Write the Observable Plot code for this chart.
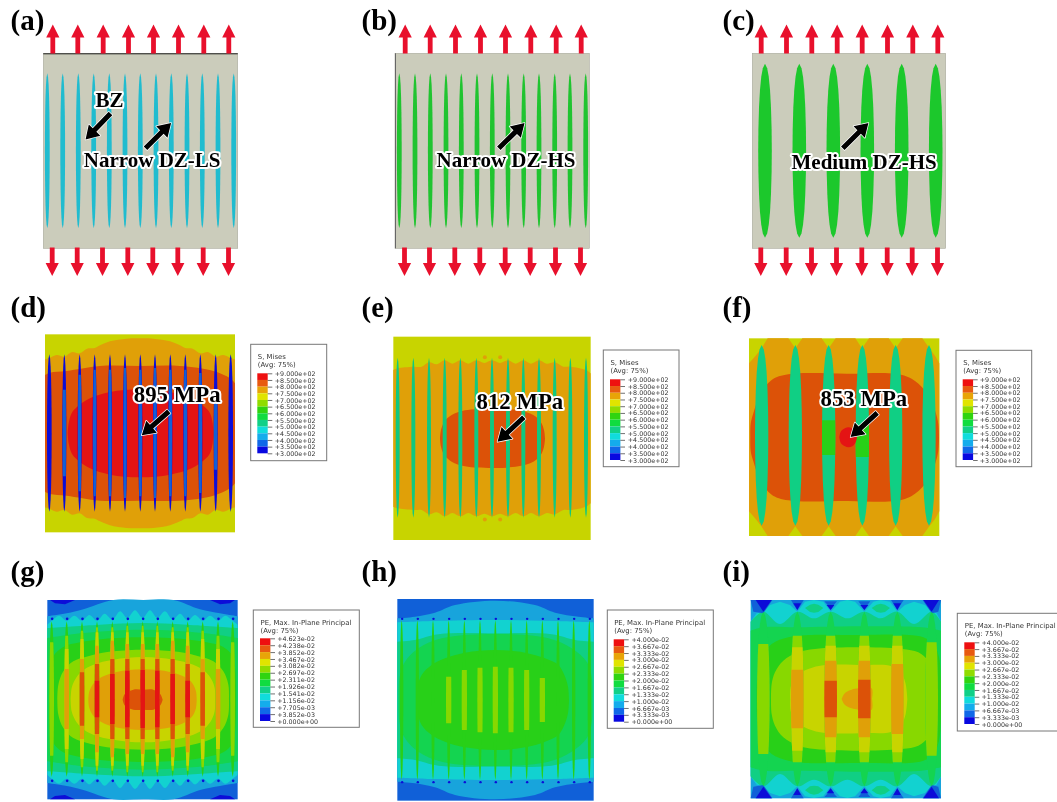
<!DOCTYPE html>
<html>
<head>
<meta charset="utf-8">
<script src="https://cdn.jsdelivr.net/npm/d3@7"></script>
<script src="https://cdn.jsdelivr.net/npm/@observablehq/plot@0.6"></script>
<style>html,body{margin:0;padding:0;background:#fff;overflow:hidden}</style>
</head>
<body>
<script>
// Contour colours, low to high (Abaqus 12-band spectrum)
const C = {dark:"#0c0cd8",blue:"#1060d8",sky:"#18a4dc",cyan:"#12d2d0",teal:"#10cf84",green:"#14d450",
  grass:"#28d018",lime:"#88d800",yellow:"#c8d400",orange:"#e0a008",redor:"#dc5208",red:"#e41414"};
const legendColors = ["#ee1010","#e85a10","#e8a408","#e0e400","#90dc00","#30d410","#10dc40","#10d088","#10dcdc","#14acec","#1068e8","#0808e0"];
const sMisesTicks = ["+9.000e+02","+8.500e+02","+8.000e+02","+7.500e+02","+7.000e+02","+6.500e+02","+6.000e+02","+5.500e+02","+5.000e+02","+4.500e+02","+4.000e+02","+3.500e+02","+3.000e+02"];
const peTicksG = ["+4.623e-02","+4.238e-02","+3.852e-02","+3.467e-02","+3.082e-02","+2.697e-02","+2.311e-02","+1.926e-02","+1.541e-02","+1.156e-02","+7.705e-03","+3.852e-03","+0.000e+00"];
const peTicksHI = ["+4.000e-02","+3.667e-02","+3.333e-02","+3.000e-02","+2.667e-02","+2.333e-02","+2.000e-02","+1.667e-02","+1.333e-02","+1.000e-02","+6.667e-03","+3.333e-03","+0.000e+00"];

// Panel letters: [label, x, baseline y]
const panelLabels = [["(a)",10,29],["(b)",361,29],["(c)",722,29],["(d)",10,316],["(e)",361,316],["(f)",722,316],["(g)",10,580],["(h)",361,580],["(i)",722,580]];

// Top row, picture pixels
const topPanels = [
  {x1:43.3,x2:237.7,y1:53.3,y2:248.3},{x1:395,x2:589.3,y1:53.3,y2:248.3},{x1:752.3,x2:945.7,y1:53.3,y2:248.3}];
const upArrowX = [[52.3,77.3,102.7,128,153,178,203.3,228.3],[404.7,429.7,455,480,505,530.3,555.7,580.7],[760.7,786,811.3,836.7,861.7,887,912.3,937.3]];
const downArrowX = [[51.7,76.7,102,127.3,152.3,177.3,202.7,228],[404,429,454.3,479.3,504.7,529.7,555,580],[760.3,785.7,811,836,861.3,886.7,911.7,937]];
const slitA = [47.3,62.7,78.3,93.7,109.3,125,140.3,156,171.3,187,202.3,218,233.7];
const slitB = [399.3,415,430.3,446,461.3,477,492.3,508,523.7,539,554.7,570,585.7];
const slitC = [765,799.3,833.3,867.3,901.7,935.7];

// Black annotation arrows: tail x, tail y, tip x, tip y
const blackArrows = [[110,113,86,138],[145,147.7,170.7,122.3],[498.3,147.7,524.3,122.3],[842.3,147.7,868,122.3],
  [168.3,411,141,435],[523.3,416.7,496,442.3],[876.7,412.3,850,436.7]];
// Annotations: text, left x, baseline y, size
const notes = [["BZ",95,106,21],["Narrow DZ-LS",83.3,166.7,21],["Narrow DZ-HS",436,166.7,21],["Medium DZ-HS",791,168,21],
  ["895 MPa",133.3,401,22.8],["812 MPa",476,408.3,22.8],["853 MPa",820,405,22.8]];

// FE contour panels. Coordinates below are read in units of 1/3 pixel within each crop.
const pD = {ox:0,oy:285,l:135,r:705,t:148,b:742,cy:445};
const pE = {ox:355,oy:285,l:115,r:707,t:155,b:765,cy:460};
const pF = {ox:715,oy:285,l:102,r:673,t:160,b:753,cy:457};
const pG = {ox:0,oy:550,l:142,r:713,t:150,b:748,cy:449};
const pH = {ox:355,oy:550,l:127,r:716,t:147,b:752,cy:450};
const pI = {ox:715,oy:550,l:107,r:678,t:150,b:745,cy:447};

// Bands: [x, half height of the contour about the panel's mid line]
const dOrange = [[135,222],[148,226],[170,235],[193,230],[216,244],[239,240],[261,254],[284,256],[300,264],[330,276],[380,284],[420,285],[460,284],[510,276],[540,264],[556,256],[578,254],[601,240],[624,244],[647,230],[670,235],[692,226],[705,222]];
const dRedOr = [[135,175],[150,182],[200,187],[300,202],[420,202],[540,202],[640,187],[690,165],[705,150]];
const dRed = [[203,0],[206,30],[215,60],[230,78],[270,105],[330,124],[420,132],[510,124],[575,105],[615,78],[630,60],[638,30],[640,0]];
const eOrange = [[115,205],[128,210],[175,215],[200,215],[222,228],[245,222],[269,234],[292,224],[316,234],[340,224],[364,234],[388,226],[411,234],[435,226],[459,234],[482,224],[505,234],[528,224],[552,234],[575,224],[599,228],[625,215],[646,215],[693,205],[707,195]];
const eRedOr = [[255,0],[258,25],[268,50],[290,70],[330,84],[410,89],[490,84],[535,70],[557,50],[567,25],[570,0]];
const fOrange = [[102,222],[122,245],[140,268],[158,297],[190,297],[220,297],[241,267],[262,297],[290,297],[320,297],[341,267],[362,297],[390,297],[421,297],[441,267],[462,297],[490,297],[521,297],[542,267],[563,297],[590,297],[622,297],[643,267],[660,245],[673,222]];
const fRedOr = [[106,0],[107,40],[115,72],[135,127],[170,172],[220,189],[400,191],[540,191],[590,176],[630,140],[660,80],[670,40],[672,0]];
const fRed = [[373,0],[378,18],[390,27],[400,30],[412,27],[422,15],[426,0]];
const gSky = [[142,250],[200,259],[250,271],[340,299],[430,300],[520,299],[600,271],[660,259],[713,250]];
const gCyan = [[142,225],[155,237],[177,252],[200,237],[223,252],[246,237],[268,254],[291,237],[314,258],[337,240],[360,265],[382,245],[405,268],[428,245],[450,268],[472,245],[495,265],[518,240],[540,258],[563,237],[585,254],[608,237],[630,252],[654,237],[676,252],[698,237],[713,225]];
const gTeal = [[142,215],[300,225],[430,230],[560,225],[713,215]];
const gGreen = [[142,185],[250,200],[430,210],[610,200],[713,185]];
const gGrass = [[148,0],[150,90],[160,130],[190,158],[240,172],[310,182],[430,187],[550,182],[620,172],[670,158],[698,130],[706,90],[708,0]];
const gLime = [[172,0],[175,45],[190,85],[220,115],[270,132],[340,145],[430,150],[520,145],[590,132],[640,115],[670,85],[685,45],[687,0]];
const gYellow = [[212,0],[215,35],[225,60],[245,85],[280,105],[340,120],[430,128],[520,120],[580,105],[615,85],[635,60],[644,35],[646,0]];
const gOrange = [[265,0],[268,25],[280,48],[300,65],[330,78],[380,88],[430,91],[480,88],[530,78],[560,65],[578,48],[588,25],[590,0]];
const gRedOr = [[368,0],[375,18],[400,30],[430,30],[460,30],[480,18],[488,0]];
const hSky = [[127,245],[180,250],[240,262],[300,285],[420,298],[540,285],[600,262],[670,250],[716,245]];
const hCyan = [[127,233],[235,237],[420,240],[600,237],[716,233]];
const hTeal = [[127,175],[180,180],[250,197],[420,200],[590,197],[660,180],[716,175]];
const hGreen = [[131,0],[134,70],[150,115],[190,155],[260,185],[420,198],[580,185],[650,155],[695,115],[710,70],[712,0]];
const hGrass = [[185,0],[188,40],[200,75],[230,105],[270,125],[330,142],[420,150],[510,142],[570,125],[610,105],[628,75],[639,40],[642,0]];
const iCyan = [[107,232],[125,257],[145,262],[165,282],[195,292],[225,282],[247,262],[270,292],[297,297],[325,292],[347,262],[375,292],[397,297],[420,292],[448,262],[475,292],[497,297],[525,292],[547,262],[570,282],[597,292],[630,282],[650,262],[665,257],[678,232]];
const iTeal = [[107,232],[145,262],[195,225],[247,262],[297,242],[347,262],[397,242],[448,262],[497,242],[547,262],[597,225],[650,262],[678,232]];
const iGreen = [[107,205],[145,215],[250,215],[430,218],[620,215],[678,205]];
const iGrass = [[125,0],[127,70],[140,125],[170,165],[220,185],[280,192],[430,192],[580,192],[625,185],[655,165],[672,125],[677,70],[678,0]];
const iLime = [[168,0],[170,45],[180,80],[205,115],[250,140],[300,150],[430,155],[560,150],[610,140],[640,115],[658,80],[666,45],[668,0]];
const iYellow = [[226,0],[228,40],[245,70],[280,90],[330,102],[450,102],[530,98],[560,75],[572,45],[577,0]];
const iOrange = [[380,0],[390,18],[410,28],[430,32],[470,32],[471,0]];

// Caps at the top and mirrored bottom edges: [x, start depth, end depth]
const gCapL = [[150,0,0],[165,0,10],[195,0,13],[225,0,0]];
const gCapR = [[630,0,0],[660,0,13],[690,0,10],[705,0,0]];
const iCapFans = [[[107,0,0],[115,0,35],[145,0,40],[172,0,0]],[[228,0,0],[236,0,14],[247,0,30],[258,0,14],[266,0,0]],[[328,4,4],[337,4,14],[347,4,30],[357,4,14],[366,4,4]],[[430,4,4],[438,4,14],[448,4,30],[458,4,14],[466,4,4]],[[528,0,0],[537,0,14],[547,0,30],[557,0,14],[566,0,0]],[[623,0,0],[650,0,40],[670,0,35],[678,0,0]]];
const iCapDark = [[[122,0,0],[145,0,35],[170,0,0]],[[235,10,10],[247,10,30],[258,10,10]],[[335,15,15],[347,15,30],[358,15,15]],[[436,15,15],[448,15,30],[460,15,15]],[[535,10,10],[547,10,30],[558,10,10]],[[625,0,0],[650,0,35],[672,0,0]]];
const iCapTeal = [[[270,24,24],[285,14,36],[297,11,38],[310,14,36],[325,24,24]],[[470,24,24],[485,14,36],[497,11,38],[510,14,36],[525,24,24]]];

// Slits: centre x, then nested [half height, colour] layers
const dSlitX = [148,193,239,284,330,375,421,465,511,556,601,647,692];
const dSlitMid = [0,130,175,190,190,195,190,195,190,190,180,110,0];
const dSlitW = [7,6,6,6,6,6,6,6,6,6,6,6,7];
const eSlitX = [128,175,222,269,316,364,411,459,505,552,599,646,693];
const fSlitX = [140,241,341,442,542,642];
const gSlitX = [155,200,246,291,337,382,428,472,518,563,608,654,698];
const gLimeH = [170,190,205,215,215,220,220,220,215,215,205,190,170];
const gYellowH = [0,150,180,200,200,200,200,200,200,200,180,150,0];
const gOrangeH = [0,90,120,160,175,165,165,165,175,160,120,90,0];
const gRedOrH = [0,0,80,105,120,120,120,120,120,105,80,0,0];
const gRedH = [0,0,0,55,75,85,87,85,75,55,0,0,0];
const hSlitX = [140,187,234,281,328,375,421,468,515,562,609,656,703];
const hLimeH = [0,0,0,70,90,97,100,97,90,66,0,0,0];
const iSlitX = [145,247,347,448,547,650];
const iLimeH = [165,190,190,190,190,170];
const iYellowH = [0,155,160,160,160,0];
const iOrangeH = [0,88,115,115,105,0];
const iRedOrH = [0,0,55,58,0,0];

// Lens outline of a slit: fraction of half length -> fraction of half width
const lensT = [0,.25,.5,.7,.85,.95,1];
const lensW = [1,.97,.88,.74,.55,.32,0];
const lens = d3.scaleLinear().domain(lensT).range(lensW).clamp(true);

// Legends, picture pixels
const legends = [
  {ticks:sMisesTicks,title:"S, Mises",box:[250.7,344.3,326.7,460.7],sx:257.3,sy:[373.3,453.3],t1:358.3,t2:366.7,lx:274.3},
  {ticks:sMisesTicks,title:"S, Mises",box:[603.3,350,679,466.7],sx:610,sy:[379.3,460],t1:364,t2:372.3,lx:627.3},
  {ticks:sMisesTicks,title:"S, Mises",box:[956,350.3,1031.7,466.7],sx:962.7,sy:[379.3,460],t1:364,t2:372.3,lx:979.3},
  {ticks:peTicksG,title:"PE, Max. In-Plane Principal",box:[253.3,610,359.3,727.3],sx:260,sy:[638.3,721],t1:624,t2:632.3,lx:276.7},
  {ticks:peTicksHI,title:"PE, Max. In-Plane Principal",box:[607.3,610,713.3,728.3],sx:613.7,sy:[639.3,721.7],t1:624,t2:632.3,lx:631},
  {ticks:peTicksHI,title:"PE, Max. In-Plane Principal",box:[957.3,613.3,1070,731],sx:964.3,sy:[642.3,724],t1:627.3,t2:635.7,lx:981}
];

// ---------- helpers ----------
const X = (p,v) => p.ox + v/3;
const Y = (p,v) => p.oy + v/3;
const marks = [];
const SERIF = "Liberation Serif";
const LEG = "DejaVu Sans";

function base(p, fill){
  marks.push(Plot.rect([p],{x1:d=>X(d,d.l),x2:d=>X(d,d.r),y1:d=>Y(d,d.t),y2:d=>Y(d,d.b),fill}));
}
function band(p, pts, fill, curve="catmull-rom"){
  marks.push(Plot.area(pts,{x1:d=>X(p,d[0]),y1:d=>Y(p,Math.max(p.t,p.cy-d[1])),y2:d=>Y(p,Math.min(p.b,p.cy+d[1])),fill,curve}));
}
function caps(p, pts, fill){
  marks.push(Plot.area(pts,{x1:d=>X(p,d[0]),y1:d=>Y(p,p.t+d[1]),y2:d=>Y(p,p.t+d[2]),fill,curve:"linear"}));
  marks.push(Plot.area(pts,{x1:d=>X(p,d[0]),y1:d=>Y(p,p.b-d[1]),y2:d=>Y(p,p.b-d[2]),fill,curve:"linear"}));
}
// one lens-shaped slit clipped to half height h of its full half length H
function slit(p, x, H, W, h, fill, cy=p.cy){
  if(!h) return;
  const hh = Math.min(h,H);
  const stops = lensT.filter(t=>t*H<hh).map(t=>t*H);
  stops.push(hh);
  const rows = [...stops.slice().reverse().map(v=>-v),...stops.slice(1)];
  marks.push(Plot.area(rows,{y1:d=>Y(p,cy+d),x1:d=>X(p,x-W*lens(Math.abs(d)/H)),x2:d=>X(p,x+W*lens(Math.abs(d)/H)),fill,curve:"linear"}));
}
function pxSlit(x,cy,H,W,fill){
  const stops = lensT.map(t=>t*H);
  const rows = [...stops.slice().reverse().map(v=>-v),...stops.slice(1)];
  marks.push(Plot.area(rows,{y1:d=>cy+d,x1:d=>x-W*lens(Math.abs(d)/H),x2:d=>x+W*lens(Math.abs(d)/H),fill,curve:"linear"}));
}
const block = (sw,hw,hl) => ({draw(c,l){
  c.moveTo(-sw,0);c.lineTo(-sw,-(l-hl));c.lineTo(-hw,-(l-hl));c.lineTo(0,-l);
  c.lineTo(hw,-(l-hl));c.lineTo(sw,-(l-hl));c.lineTo(sw,0);c.closePath();
}});

// ---------- top row ----------
topPanels.forEach(d=>marks.push(Plot.rect([d],{x1:"x1",x2:"x2",y1:"y1",y2:"y2",fill:"#cbccbb",stroke:"#a8a89c",strokeWidth:.6})));
marks.push(Plot.ruleY([53.3],{x1:43.3,x2:237.7,stroke:"#222",strokeWidth:1}));
marks.push(Plot.ruleX([395],{y1:53.3,y2:248.3,stroke:"#666",strokeWidth:1}));
slitA.forEach(x=>pxSlit(x,150.8,77.5,2.4,"#20bccf"));
slitB.forEach(x=>pxSlit(x,150.8,77.5,2.4,"#20c430"));
slitC.forEach(x=>pxSlit(x,150.8,87,6.8,"#1cc82c"));
const redArrow = block(2.4,6.6,13);
marks.push(Plot.vector(upArrowX.flat(),{x:d=>d,y:53,length:29,rotate:0,anchor:"start",shape:redArrow,fill:"#e8102c",stroke:"none"}));
marks.push(Plot.vector(downArrowX.flat(),{x:d=>d,y:247,length:28.5,rotate:180,anchor:"start",shape:redArrow,fill:"#e8102c",stroke:"none"}));

// ---------- (d) ----------
base(pD,C.yellow);
band(pD,dOrange,C.orange);band(pD,dRedOr,C.redor);band(pD,dRed,C.red);
dSlitX.forEach((x,i)=>{slit(pD,x,236,dSlitW[i],236,C.dark,444);slit(pD,x,236,dSlitW[i]-1,dSlitMid[i],C.blue,444);});

// ---------- (e) ----------
base(pE,C.yellow);
band(pE,eOrange,C.orange);band(pE,eRedOr,C.redor);
eSlitX.forEach(x=>slit(pE,x,240,6,240,"#10c880",458));
marks.push(Plot.dot([[388,215],[434,215],[388,702],[434,702]],{x:d=>X(pE,d[0]),y:d=>Y(pE,d[1]),r:2,fill:C.orange}));

// ---------- (f) ----------
base(pF,C.yellow);
band(pF,fOrange,C.orange,"linear");band(pF,fRedOr,C.redor);
fSlitX.forEach(x=>slit(pF,x,271,20,271,C.teal,451));
slit(pF,341,271,20,52,C.grass,458);slit(pF,442,271,20,48,C.grass,468);
band(pF,fRed,C.red);

// ---------- (g) ----------
base(pG,C.blue);
band(pG,gSky,C.sky);band(pG,gCyan,C.cyan);band(pG,gTeal,C.teal);band(pG,gGreen,C.green);band(pG,gGrass,C.grass);
band(pG,gLime,C.lime);band(pG,gYellow,C.yellow);band(pG,gOrange,C.orange);band(pG,gRedOr,C.redor);
caps(pG,gCapL,C.dark);caps(pG,gCapR,C.dark);
gSlitX.forEach((x,i)=>{
  slit(pG,x,233,7,233,C.grass,447);slit(pG,x,233,7,gLimeH[i],C.lime,447);slit(pG,x,233,7,gYellowH[i],C.yellow,447);
  slit(pG,x,233,7,gOrangeH[i],C.orange,447);slit(pG,x,233,7,gRedOrH[i],C.redor,447);slit(pG,x,233,7,gRedH[i],C.red,447);
});
marks.push(Plot.dot([...gSlitX.map(x=>[x,205]),...gSlitX.map(x=>[x,691])],{x:d=>X(pG,d[0]),y:d=>Y(pG,d[1]),r:1.3,fill:C.dark}));

// ---------- (h) ----------
base(pH,C.blue);
band(pH,hSky,C.sky);band(pH,hCyan,C.cyan);band(pH,hTeal,C.teal);band(pH,hGreen,C.green);band(pH,hGrass,C.grass);
hSlitX.forEach((x,i)=>{slit(pH,x,240,5,240,C.grass,450);slit(pH,x,240,8,hLimeH[i],C.lime,450);});
marks.push(Plot.dot([...hSlitX.map(x=>[x,205]),...hSlitX.map(x=>[x,695])],{x:d=>X(pH,d[0]),y:d=>Y(pH,d[1]),r:1.2,fill:C.dark}));

// ---------- (i) ----------
base(pI,C.sky);
band(pI,iCyan,C.cyan,"linear");band(pI,iTeal,C.teal);band(pI,iGreen,C.green);band(pI,iGrass,C.grass);
band(pI,iLime,C.lime);band(pI,iYellow,C.yellow);band(pI,iOrange,C.orange);
iCapFans.forEach(c=>caps(pI,c,C.blue));iCapTeal.forEach(c=>caps(pI,c,C.teal));iCapDark.forEach(c=>caps(pI,c,C.dark));
iSlitX.forEach((x,i)=>{
  slit(pI,x,262,19,262,C.green,447);slit(pI,x,262,19,iLimeH[i],C.lime,447);slit(pI,x,262,19,iYellowH[i],C.yellow,447);
  slit(pI,x,262,19,iOrangeH[i],C.orange,447);slit(pI,x,262,19,iRedOrH[i],C.redor,447);
});

// ---------- annotations ----------
const blackShape = block(2.5,8,13);
marks.push(Plot.vector(blackArrows,{x:d=>d[0],y:d=>d[1],length:36,rotate:d=>Math.atan2(d[2]-d[0],d[1]-d[3])*180/Math.PI,anchor:"start",shape:blackShape,fill:"#000",stroke:"#fff",strokeWidth:1.5,paintOrder:"stroke"}));
marks.push(Plot.text(notes,{x:d=>d[1],y:d=>d[2],text:d=>d[0],fontSize:d=>d[3],textAnchor:"start",lineAnchor:"bottom",fontFamily:SERIF,fontWeight:"bold",fill:"#000",stroke:"#fff",strokeWidth:4,paintOrder:"stroke",strokeLinejoin:"round"}));
marks.push(Plot.text(panelLabels,{x:d=>d[1],y:d=>d[2],text:d=>d[0],fontSize:29,textAnchor:"start",lineAnchor:"bottom",fontFamily:SERIF,fontWeight:"bold",fill:"#000"}));

// ---------- legends ----------
legends.forEach(L=>{
  const [bx1,by1,bx2,by2] = L.box;
  marks.push(Plot.rect([L],{x1:bx1,x2:bx2,y1:by1,y2:by2,fill:"#fff",stroke:"#777",strokeWidth:1}));
  const step = (L.sy[1]-L.sy[0])/12;
  marks.push(Plot.rect(legendColors,{x1:L.sx,x2:L.sx+10.4,y1:(d,i)=>L.sy[0]+i*step,y2:(d,i)=>L.sy[0]+(i+1)*step,fill:d=>d}));
  marks.push(Plot.ruleY(L.ticks,{y:(d,i)=>L.sy[0]+i*step,x1:L.sx+10.4,x2:L.sx+15,stroke:"#333",strokeWidth:.7}));
  marks.push(Plot.text(L.ticks,{x:L.lx,y:(d,i)=>L.sy[0]+i*step,text:d=>d,fontSize:6.35,textAnchor:"start",fontFamily:LEG,fill:"#333"}));
  marks.push(Plot.text([L.title,"(Avg: 75%)"],{x:L.sx,y:(d,i)=>i?L.t2:L.t1,text:d=>d,fontSize:6.9,textAnchor:"start",lineAnchor:"bottom",fontFamily:LEG,fill:"#333"}));
});

const chart = Plot.plot({width:1057,height:802,margin:0,
  x:{domain:[0,1057],axis:null},y:{domain:[802,0],axis:null},
  style:{background:"#fff",filter:"blur(0.35px)"},marks});
document.body.appendChild(chart);
</script>
</body>
</html>
